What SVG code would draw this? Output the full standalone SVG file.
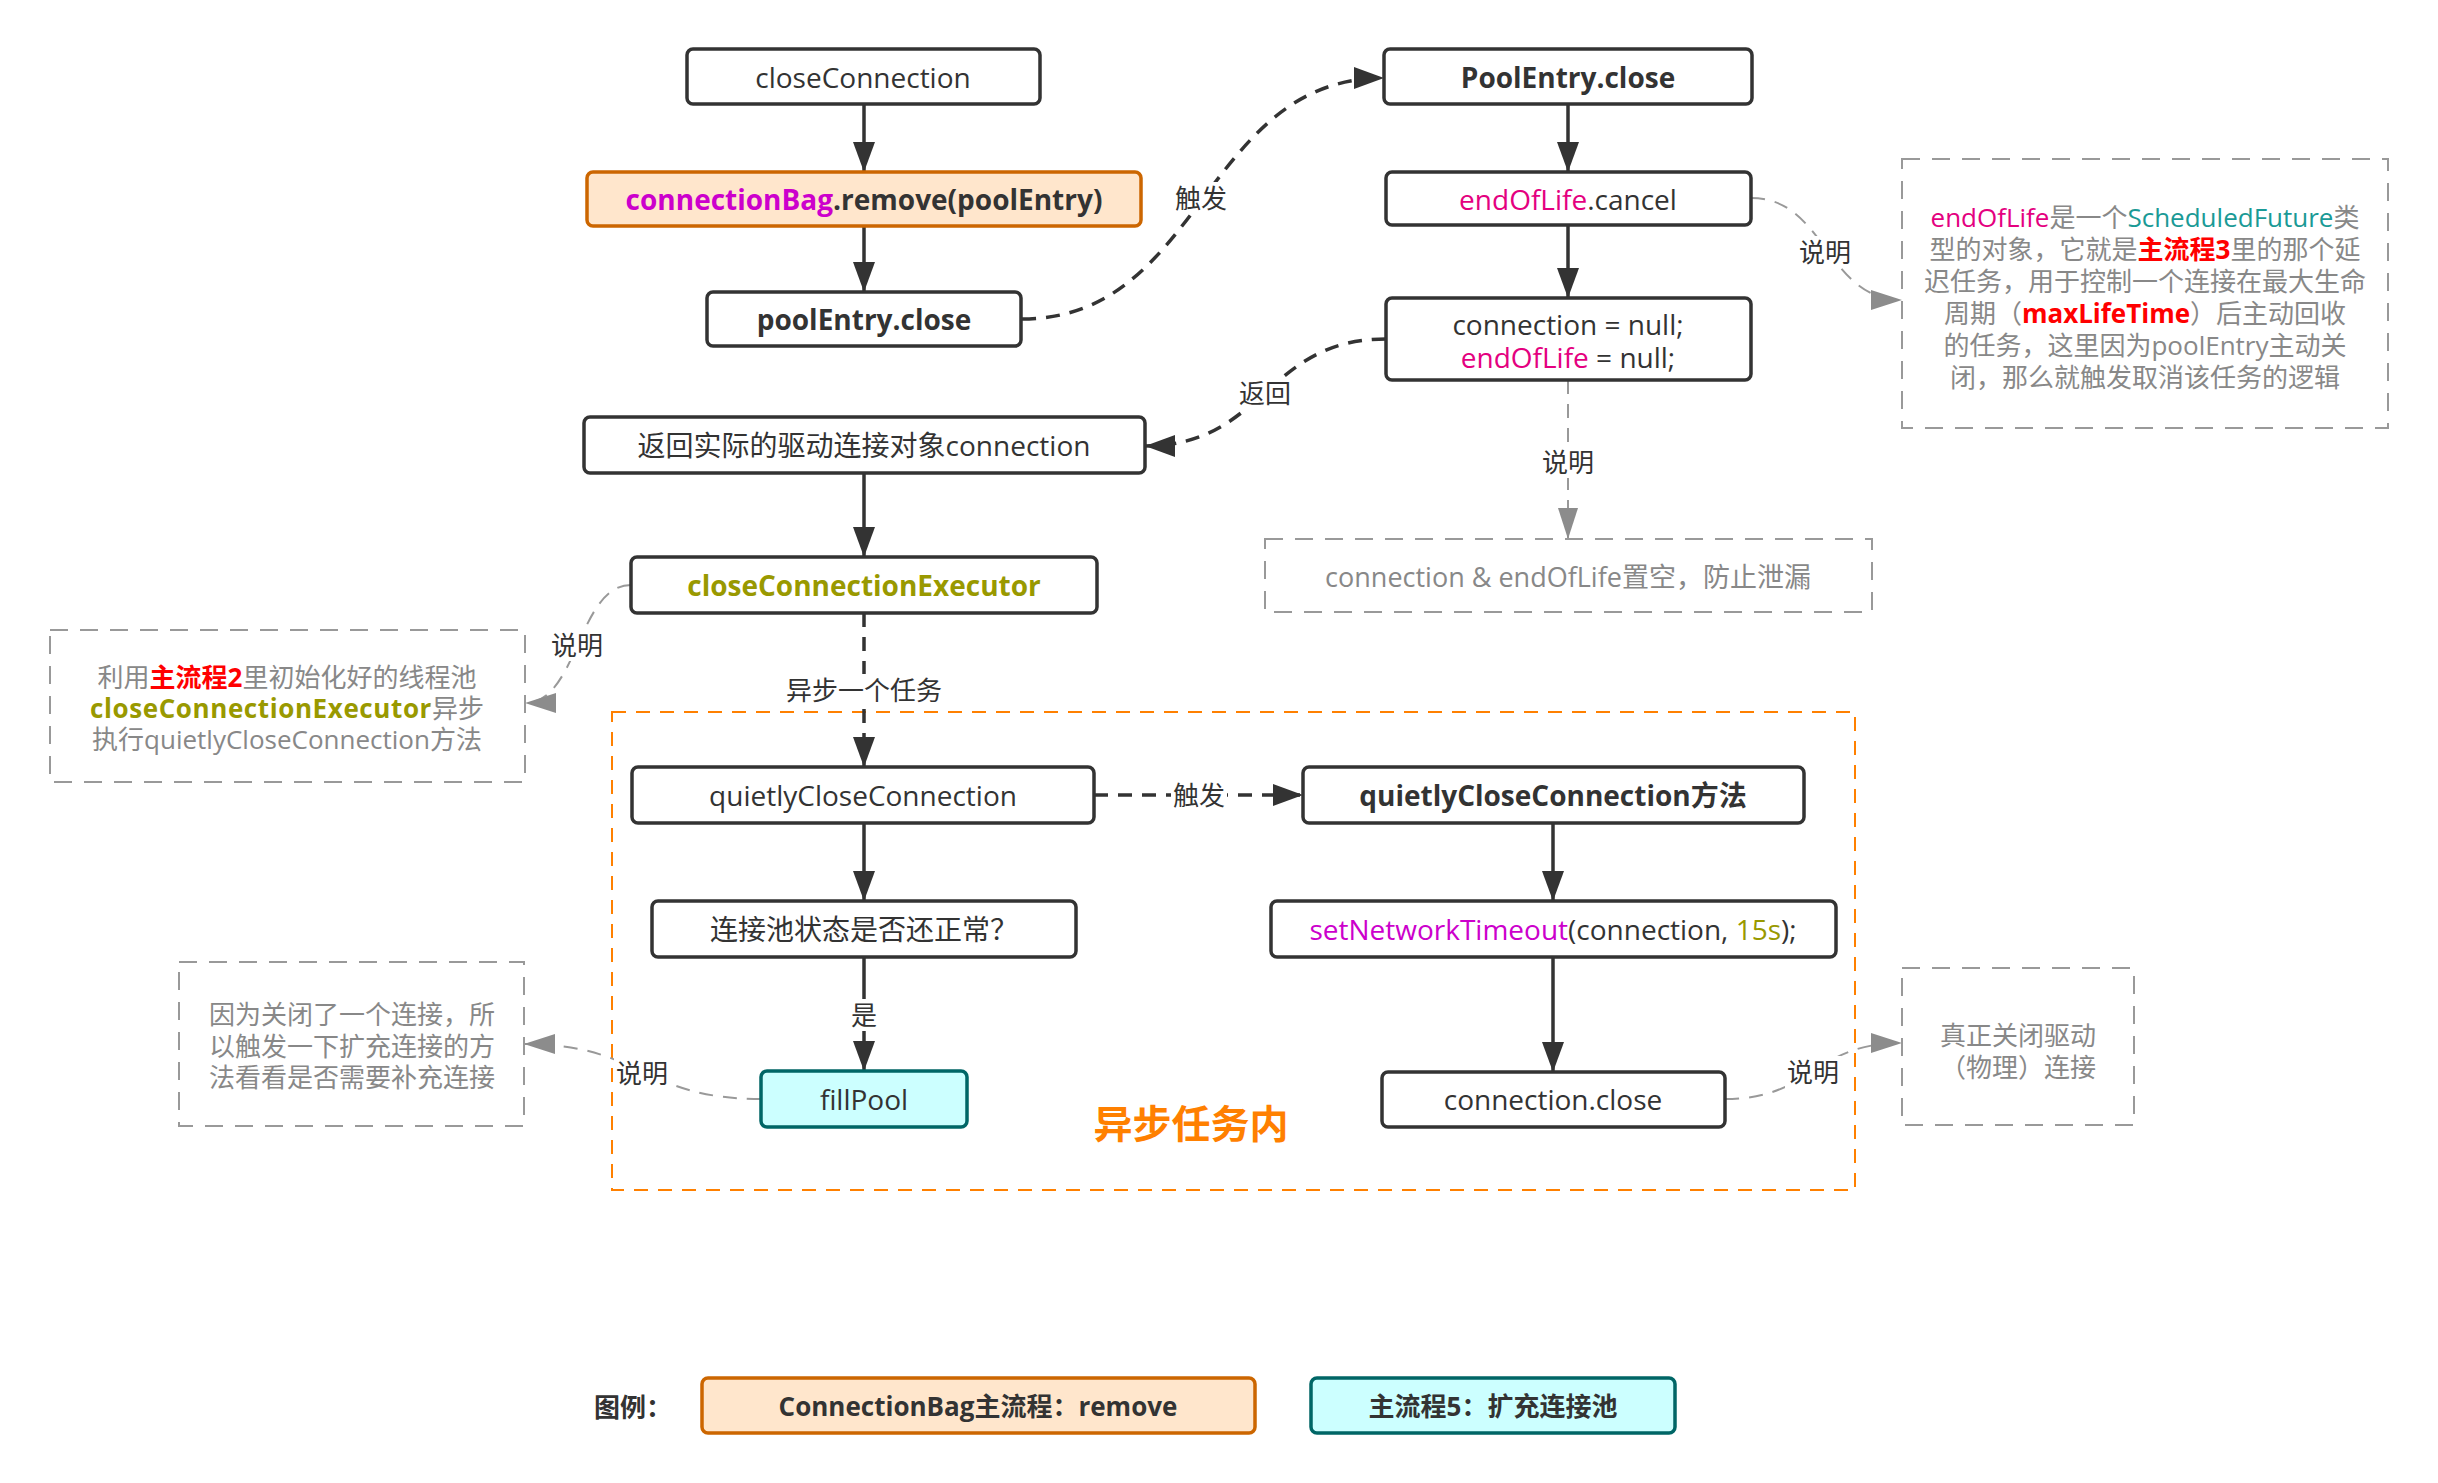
<svg xmlns="http://www.w3.org/2000/svg" width="2438" height="1483" viewBox="0 0 2438 1483">
<defs>
<style>
text{font-family:"Open Sans","Noto Sans CJK SC",sans-serif;dominant-baseline:central;text-anchor:middle}
.node rect{fill:#fff;stroke:#333;stroke-width:3.5}
.t{font-size:28px;fill:#333}
.b{font-weight:bold}
.note rect{fill:none;stroke:#999;stroke-width:2;stroke-dasharray:18 12}
.nt{font-size:26px;fill:#888}
.solid{fill:none;stroke:#333;stroke-width:3.5;marker-end:url(#ah)}
.dash{fill:none;stroke:#333;stroke-width:3.5;stroke-dasharray:14 10;marker-end:url(#ah)}
.gdash{fill:none;stroke:#999;stroke-width:2;stroke-dasharray:14 10;marker-end:url(#gh)}
.lbl{font-size:26px;fill:#333}
.lbg{fill:#fff}
.pink{fill:#E4007F}
.mag{fill:#CC00CC}
.olive{fill:#999900}
.teal{fill:#1A9A96}
.red{fill:#FF0000;font-weight:bold}
.orange rect{fill:#FFE6CC;stroke:#CC6600}
.cyan rect{fill:#CCFFFF;stroke:#006666}
</style>
<marker id="ah" markerUnits="userSpaceOnUse" markerWidth="30" markerHeight="22" refX="30" refY="11" orient="auto"><path d="M0,0L30,11L0,22z" fill="#333"/></marker>
<marker id="gh" markerUnits="userSpaceOnUse" markerWidth="31" markerHeight="20" refX="31" refY="10" orient="auto"><path d="M0,0L31,10L0,20z" fill="#8c8c8c"/></marker>
</defs>
<rect width="2438" height="1483" fill="#fff"/>

<g id="async-area">
<rect x="612" y="712" width="1243" height="478" fill="none" stroke="#FF8000" stroke-width="2" stroke-dasharray="14 10"/>
<text x="1191" y="1122" style="font-size:39px;font-weight:bold;fill:#FF8000">异步任务内</text>
</g>

<g id="connectors">
<path class="solid" d="M864,104V172"/>
<path class="solid" d="M864,226V292"/>
<path class="dash" d="M1022,319C1203,319 1203,78 1384,78"/>
<path class="solid" d="M1568,104V172"/>
<path class="solid" d="M1568,225V298"/>
<path class="dash" d="M1386,339C1265,339 1265,446 1145,446"/>
<path class="gdash" d="M1568,380V539"/>
<path class="gdash" d="M1751,198C1826,198 1826,300 1902,300"/>
<path class="solid" d="M864,473V557"/>
<path class="gdash" d="M631,585C578,585 578,703 525,703"/>
<path class="dash" d="M864,613V767"/>
<path class="dash" d="M1094,795H1303"/>
<path class="solid" d="M864,823V901"/>
<path class="solid" d="M864,957V1071"/>
<path class="gdash" d="M761,1099C642,1099 642,1044 524,1044"/>
<path class="solid" d="M1553,823V901"/>
<path class="solid" d="M1553,957V1072"/>
<path class="gdash" d="M1725,1099C1813,1099 1813,1043 1902,1043"/>
<g id="labels">
<rect class="lbg" x="1173" y="182" width="56" height="32"/><text class="lbl" x="1201" y="198">触发</text>
<rect class="lbg" x="1237" y="377" width="56" height="32"/><text class="lbl" x="1265" y="393">返回</text>
<rect class="lbg" x="1540" y="446" width="56" height="32"/><text class="lbl" x="1568" y="462">说明</text>
<rect class="lbg" x="1797" y="236" width="56" height="32"/><text class="lbl" x="1825" y="252">说明</text>
<rect class="lbg" x="549" y="629" width="56" height="32"/><text class="lbl" x="577" y="645">说明</text>
<rect class="lbg" x="784" y="674" width="160" height="32"/><text class="lbl" x="864" y="690">异步一个任务</text>
<rect class="lbg" x="1171" y="779" width="56" height="32"/><text class="lbl" x="1199" y="795">触发</text>
<rect class="lbg" x="849" y="999" width="30" height="32"/><text class="lbl" x="864" y="1015">是</text>
<rect class="lbg" x="614" y="1057" width="56" height="32"/><text class="lbl" x="642" y="1073">说明</text>
<rect class="lbg" x="1785" y="1056" width="56" height="32"/><text class="lbl" x="1813" y="1072">说明</text>
</g>
</g>

<g id="closeConnection" class="node"><rect x="687" y="49" width="353" height="55" rx="6"/><text class="t" x="863" y="77">closeConnection</text></g>
<g id="connectionBag-remove" class="node orange"><rect x="587" y="172" width="554" height="54" rx="6"/><text class="t b" x="864" y="199"><tspan class="mag">connectionBag</tspan>.remove(poolEntry)</text></g>
<g id="poolEntry-close" class="node"><rect x="707" y="292" width="314" height="54" rx="6"/><text class="t b" x="864" y="319">poolEntry.close</text></g>
<g id="PoolEntry-close" class="node"><rect x="1384" y="49" width="368" height="55" rx="6"/><text class="t b" x="1568" y="77">PoolEntry.close</text></g>
<g id="endOfLife-cancel" class="node"><rect x="1386" y="172" width="365" height="53" rx="6"/><text class="t" x="1568" y="199"><tspan class="pink">endOfLife</tspan>.cancel</text></g>
<g id="set-null" class="node"><rect x="1386" y="298" width="365" height="82" rx="6"/><text class="t" x="1568" y="324">connection = null;</text><text class="t" x="1568" y="357"><tspan class="pink">endOfLife</tspan> = null;</text></g>
<g id="return-connection" class="node"><rect x="584" y="417" width="561" height="56" rx="6"/><text class="t" x="864" y="445">返回实际的驱动连接对象connection</text></g>
<g id="closeConnectionExecutor" class="node"><rect x="631" y="557" width="466" height="56" rx="6"/><text class="t b olive" x="864" y="585">closeConnectionExecutor</text></g>
<g id="quietlyCloseConnection" class="node"><rect x="632" y="767" width="462" height="56" rx="6"/><text class="t" x="863" y="795">quietlyCloseConnection</text></g>
<g id="quietlyCloseConnection-method" class="node"><rect x="1303" y="767" width="501" height="56" rx="6"/><text class="t b" x="1553" y="795">quietlyCloseConnection方法</text></g>
<g id="pool-state" class="node"><rect x="652" y="901" width="424" height="56" rx="6"/><text class="t" x="864" y="929">连接池状态是否还正常？</text></g>
<g id="setNetworkTimeout" class="node"><rect x="1271" y="901" width="565" height="56" rx="6"/><text class="t" x="1553" y="929"><tspan class="mag">setNetworkTimeout</tspan>(connection, <tspan class="olive">15s</tspan>);</text></g>
<g id="fillPool" class="node cyan"><rect x="761" y="1071" width="206" height="56" rx="6"/><text class="t" x="864" y="1099">fillPool</text></g>
<g id="connection-close" class="node"><rect x="1382" y="1072" width="343" height="55" rx="6"/><text class="t" x="1553" y="1099">connection.close</text></g>

<g id="note-endOfLife" class="note"><rect x="1902" y="159" width="486" height="269"/>
<text class="nt" x="2145" y="217"><tspan class="pink">endOfLife</tspan>是一个<tspan class="teal">ScheduledFuture</tspan>类</text>
<text class="nt" x="2145" y="249">型的对象，它就是<tspan class="red">主流程3</tspan>里的那个延</text>
<text class="nt" x="2145" y="281">迟任务，用于控制一个连接在最大生命</text>
<text class="nt" x="2145" y="313">周期（<tspan class="red">maxLifeTime</tspan>）后主动回收</text>
<text class="nt" x="2145" y="345">的任务，这里因为poolEntry主动关</text>
<text class="nt" x="2145" y="377">闭，那么就触发取消该任务的逻辑</text>
</g>
<g id="note-null" class="note"><rect x="1265" y="539" width="607" height="73"/><text class="nt" x="1568" y="576" style="font-size:27px">connection &amp; endOfLife置空，防止泄漏</text></g>
<g id="note-executor" class="note"><rect x="50" y="630" width="475" height="152"/>
<text class="nt" x="287" y="677">利用<tspan class="red">主流程2</tspan>里初始化好的线程池</text>
<text class="nt" x="287" y="708"><tspan class="olive" font-weight="bold" letter-spacing="0.6">closeConnectionExecutor</tspan>异步</text>
<text class="nt" x="287" y="739">执行quietlyCloseConnection方法</text>
</g>
<g id="note-fillPool" class="note"><rect x="179" y="962" width="345" height="164"/>
<text class="nt" x="352" y="1014">因为关闭了一个连接，所</text>
<text class="nt" x="352" y="1046">以触发一下扩充连接的方</text>
<text class="nt" x="352" y="1077">法看看是否需要补充连接</text>
</g>
<g id="note-close" class="note"><rect x="1902" y="968" width="232" height="157"/>
<text class="nt" x="2018" y="1035">真正关闭驱动</text>
<text class="nt" x="2018" y="1067">（物理）连接</text>
</g>

<g id="legend">
<text x="633" y="1407" style="font-size:26px;font-weight:bold;fill:#333">图例：</text>
<g id="legend-connectionBag" class="node orange"><rect x="702" y="1378" width="553" height="55" rx="6"/><text class="t b" x="978" y="1406" style="font-size:26px">ConnectionBag主流程：remove</text></g>
<g id="legend-fillPool" class="node cyan"><rect x="1311" y="1378" width="364" height="55" rx="6"/><text class="t b" x="1493" y="1406" style="font-size:26px">主流程5：扩充连接池</text></g>
</g>
</svg>
